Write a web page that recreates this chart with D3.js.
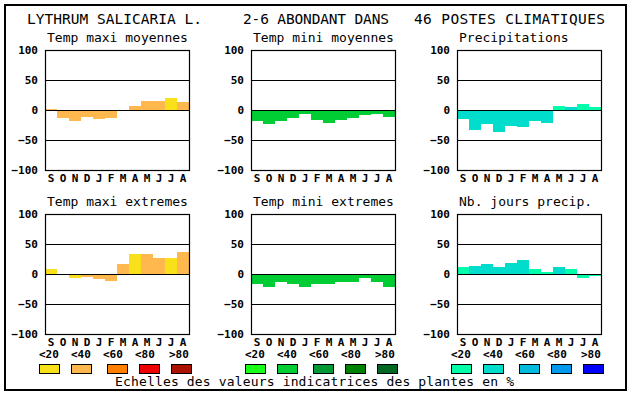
<!DOCTYPE html>
<html>
<head>
<meta charset="utf-8">
<script src="https://cdn.jsdelivr.net/npm/d3@7"></script>
<style>
  html, body { margin: 0; padding: 0; background: #fff; }
  svg text { font-family: "DejaVu Sans Mono", monospace; fill: #000; }
</style>
</head>
<body>
<div id="chart"></div>
<script>
// ── Data ──
const months = ['S', 'O', 'N', 'D', 'J', 'F', 'M', 'A', 'M', 'J', 'J', 'A'];
const yTicks = [100, 50, 0, -50, -100];
const gridValues = [50, 0, -50];
const legendLabels = ['<20', '<40', '<60', '<80', '>80'];

const palOrange = ['#F8E11A', '#FFB84D', '#FF8000', '#EE0000', '#AA1100'];
const palGreen  = ['#19FF19', '#00CC33', '#009933', '#008000', '#006622'];
const palBlue   = ['#00FFAA', '#00DDCC', '#00BBDD', '#0099EE', '#0000FF'];

const panelTitles = ['Temp maxi moyennes', 'Temp mini moyennes', 'Precipitations',
                     'Temp maxi extremes', 'Temp mini extremes', 'Nb. jours precip.'];

// values per month (S..A) and palette class (0 = <20 ... 4 = >80)
const maxiMoy      = [2, -13, -18, -12, -15, -13, 0, 7, 15, 15, 20, 14];
const maxiMoyCls   = [1, 1, 1, 1, 1, 1, 1, 1, 1, 1, 0, 1];
const miniMoy      = [-18, -23, -18, -13, -7, -16, -21, -16, -13, -8, -6, -11];
const miniMoyCls   = [1, 1, 1, 1, 1, 1, 1, 1, 1, 1, 1, 1];
const precip       = [-15, -33, -23, -36, -27, -28, -18, -21, 7, 5, 10, 5];
const precipCls    = [1, 1, 1, 1, 1, 1, 1, 1, 0, 1, 0, 0];
const maxiExt      = [8, 0, -6, -5, -8, -12, 16, 33, 33, 26, 27, 36];
const maxiExtCls   = [0, 1, 0, 1, 1, 1, 1, 0, 1, 1, 0, 1];
const miniExt      = [-17, -22, -14, -17, -21, -17, -16, -14, -14, -6, -14, -21];
const miniExtCls   = [1, 1, 1, 1, 1, 1, 1, 1, 1, 1, 1, 1];
const joursPrecip  = [11, 14, 16, 11, 18, 24, 8, 3, 11, 8, -6, -3];
const joursPrecipCls = [0, 1, 1, 1, 1, 1, 0, 0, 1, 0, 0, 0];

const W = 630, H = 394;
const svg = d3.select('#chart').append('svg').attr('width', W).attr('height', H);

// ── Outer frame ──
svg.append('rect').attr('x', 5).attr('y', 5).attr('width', 621).attr('height', 385)
  .attr('fill', '#fff').attr('stroke', '#000').attr('stroke-width', 2);

// ── Main title ──
[['LYTHRUM SALICARIA L.', 27, 175], ['2-6 ABONDANT DANS', 243, 146], ['46 POSTES CLIMATIQUES', 414, 191]]
  .forEach(([t, x, len]) => {
    svg.append('text').attr('x', x).attr('y', 24).attr('font-size', '14.5px')
      .attr('textLength', len).attr('lengthAdjust', 'spacing').text(t);
  });

// ── Panels ──
const colX = [45, 251, 457], rowY = [50, 214];
const PW = 144, PH = 120;
const panels = [
  { vals: maxiMoy, cls: maxiMoyCls, pal: palOrange },
  { vals: miniMoy, cls: miniMoyCls, pal: palGreen },
  { vals: precip, cls: precipCls, pal: palBlue },
  { vals: maxiExt, cls: maxiExtCls, pal: palOrange },
  { vals: miniExt, cls: miniExtCls, pal: palGreen },
  { vals: joursPrecip, cls: joursPrecipCls, pal: palBlue }
];

panels.forEach((p, k) => {
  const x0 = colX[k % 3], y0 = rowY[Math.floor(k / 3)];
  const x = d3.scaleBand().domain(d3.range(12)).range([x0, x0 + PW]).padding(0);
  const y = d3.scaleLinear().domain([-100, 100]).range([y0 + PH, y0]);
  const g = svg.append('g');

  g.append('text').attr('x', x0 + 2).attr('y', y0 - 8).attr('font-size', '13px')
    .text(panelTitles[k]);

  g.selectAll('rect.bar').data(p.vals).join('rect').attr('class', 'bar')
    .attr('x', (d, i) => x(i)).attr('width', x.bandwidth())
    .attr('y', d => y(Math.max(0, d)))
    .attr('height', d => Math.abs(y(d) - y(0)))
    .attr('fill', (d, i) => p.pal[p.cls[i]])
    .attr('shape-rendering', 'crispEdges');

  g.selectAll('line.grid').data(gridValues).join('line').attr('class', 'grid')
    .attr('x1', x0).attr('x2', x0 + PW)
    .attr('y1', d => Math.round(y(d)) + 0.5).attr('y2', d => Math.round(y(d)) + 0.5)
    .attr('stroke', '#000').attr('stroke-width', 1.2);

  g.append('rect').attr('x', x0 + 0.5).attr('y', y0 + 0.5).attr('width', PW).attr('height', PH)
    .attr('fill', 'none').attr('stroke', '#000').attr('stroke-width', 1.2);

  // y labels
  const ay = g.append('g').attr('transform', `translate(${x0},0)`)
    .call(d3.axisLeft(y).tickValues(yTicks).tickSize(0).tickPadding(7));
  ay.select('.domain').remove();
  ay.selectAll('text').attr('font-family', '"DejaVu Sans Mono", monospace')
    .attr('font-size', '11px').attr('font-weight', 'bold').attr('fill', '#000');

  // month labels
  const ax = g.append('g').attr('transform', `translate(0,${y0 + PH})`)
    .call(d3.axisBottom(x).tickFormat(i => months[i]).tickSize(0).tickPadding(4));
  ax.select('.domain').remove();
  ax.selectAll('text').attr('font-family', '"DejaVu Sans Mono", monospace')
    .attr('font-size', '11px').attr('font-weight', 'bold').attr('fill', '#000');
});

// ── Legends ──
const legendStart = [39, 245, 451];
const labelOffsets = [0, 32, 64, 96, 130];
const swatchOffsets = [0, 32, 68, 100, 132];
[palOrange, palGreen, palBlue].forEach((pal, k) => {
  const lx = legendStart[k];
  legendLabels.forEach((lab, i) => {
    svg.append('text').attr('x', lx + labelOffsets[i]).attr('y', 357.5)
      .attr('font-size', '11px').attr('font-weight', 'bold').text(lab);
  });
  pal.forEach((c, i) => {
    svg.append('rect').attr('x', lx + swatchOffsets[i] + 0.5).attr('y', 364.5)
      .attr('width', 20).attr('height', 9)
      .attr('fill', c).attr('stroke', '#000').attr('stroke-width', 1);
  });
});

svg.append('text').attr('x', 115).attr('y', 386).attr('font-size', '13px')
  .attr('textLength', 399).attr('lengthAdjust', 'spacing')
  .text('Echelles des valeurs indicatrices des plantes en %');
</script>
</body>
</html>
